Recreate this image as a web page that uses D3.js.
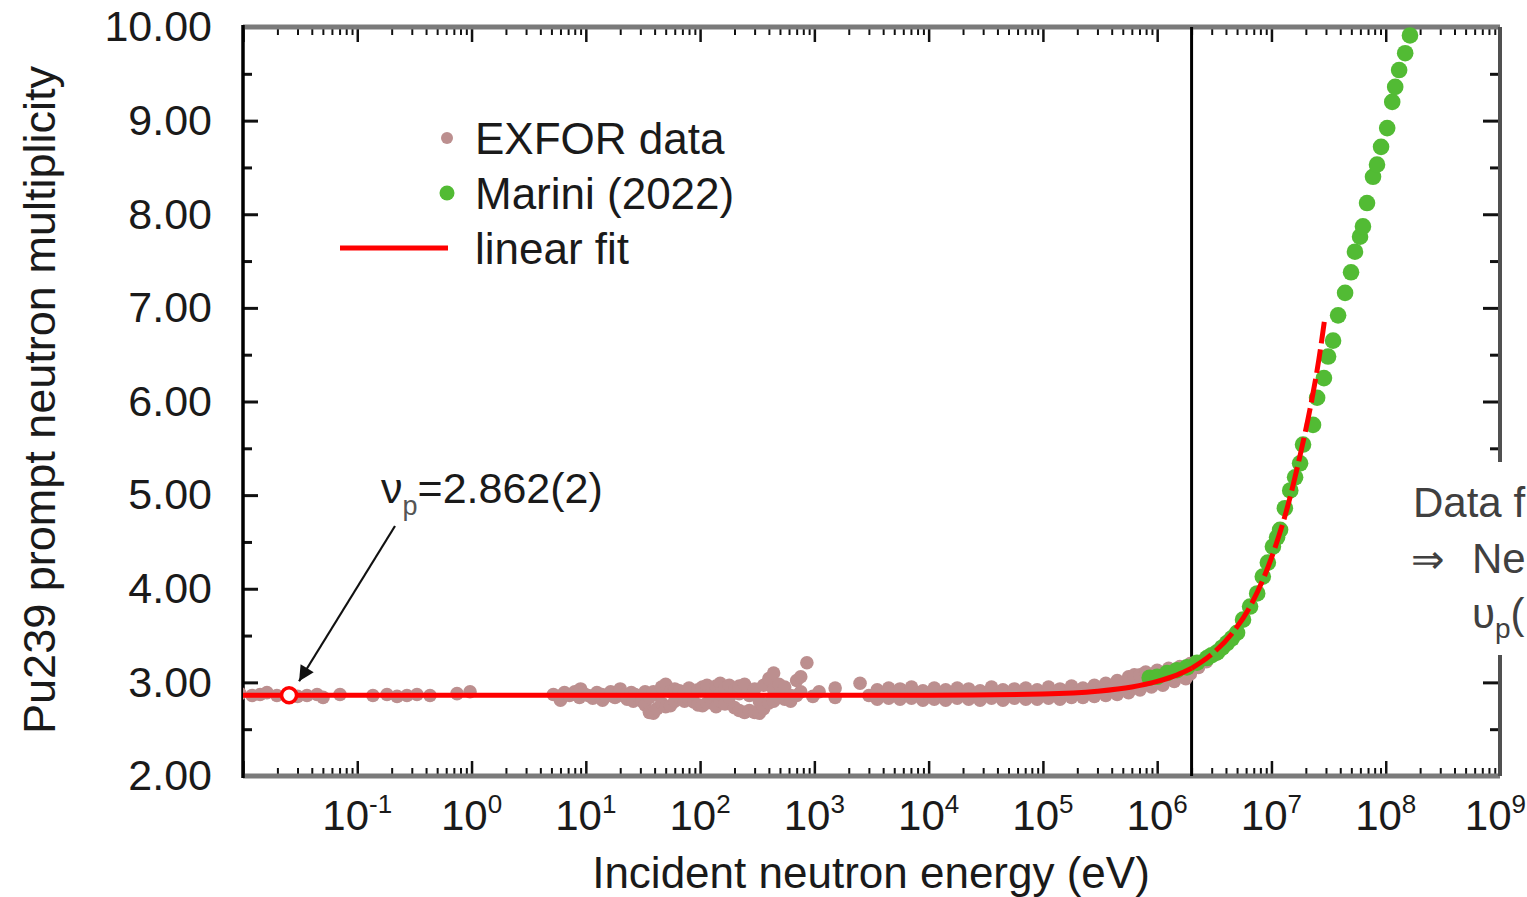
<!DOCTYPE html>
<html>
<head>
<meta charset="utf-8">
<script src="https://cdn.jsdelivr.net/npm/d3@7"></script>
<style>
  body { margin: 0; background: #fff; }
  svg { display: block; }
  text { font-family: "Liberation Sans", Arial, Helvetica, sans-serif; fill: #1a1a1a; }
</style>
</head>
<body>
<svg id="chart" width="1527" height="897"></svg>
<script>
// ---- values ----

// EXFOR measurements [energy (eV), prompt nu]
var exforPoints = [
  // thermal / low energy
  [0.0094,2.88],[0.012,2.86],[0.0141,2.87],[0.0162,2.89],[0.0198,2.86],[0.0253,2.87],[0.030,2.85],
  [0.0363,2.86],[0.0445,2.87],[0.0502,2.84],[0.0706,2.87],[0.137,2.86],[0.182,2.87],[0.223,2.85],
  [0.272,2.86],[0.333,2.87],[0.433,2.86],[0.746,2.88],[0.97,2.90],
  // resonance region
  [5.2,2.87],[5.8,2.85],[6.0,2.81],[6.5,2.89],[7.2,2.86],[8.0,2.90],[8.8,2.84],[9.0,2.93],[9.6,2.88],
  [10.5,2.86],[11.5,2.83],[12.5,2.89],[13.8,2.87],[14,2.81],[15,2.85],[16.5,2.90],[18,2.84],
  [19.5,2.88],[20,2.93],[21,2.86],[23,2.82],[25,2.89],[26,2.80],[27,2.87],[29,2.85],
  [31,2.86],[31,2.80],[33,2.90],[33,2.76],[36,2.68],[36,2.84],[39,2.67],[39,2.90],[42,2.72],[42,2.87],
  [46,2.95],[46,2.78],[50,2.98],[50,2.74],[55,2.75],[55,2.90],[60,2.80],[60,2.93],[66,2.84],[66,2.91],
  [73,2.80],[73,2.90],[80,2.82],[80,2.94],[88,2.79],[88,2.88],[96,2.76],[96,2.92],[105,2.75],[105,2.95],
  [115,2.78],[115,2.97],[126,2.80],[126,2.88],[138,2.74],[138,2.96],[150,2.80],[150,2.99],[150,2.88],
  [165,2.77],[165,2.94],[180,2.84],[180,2.97],[200,2.73],[200,2.92],[220,2.70],[220,2.88],[220,2.96],
  [245,2.68],[245,2.98],[270,2.70],[270,2.86],[300,2.68],[300,2.93],[330,2.67],[330,2.80],
  [360,2.72],[360,2.97],[400,2.78],[400,3.04],[440,2.80],[440,3.10],[440,2.92],[490,2.84],[490,2.98],
  [550,2.82],[550,2.95],[620,2.86],[620,2.80],[700,2.86],[700,3.02],[760,2.90],[760,3.06],
  [860,3.21],[970,2.85],[1100,2.90],[1520,2.94],[1520,2.84],[2510,2.99],[3000,2.86],
  // keV - MeV band
  [3550,2.92],[3550,2.82],[3980,2.87],[4470,2.94],[4470,2.83],[5010,2.88],[5620,2.82],[5620,2.93],
  [6310,2.87],[7080,2.95],[7080,2.83],[7940,2.86],[8910,2.91],[8910,2.81],[10000,2.87],
  [11200,2.94],[11200,2.82],[12600,2.86],[14100,2.92],[14100,2.81],[15800,2.88],[17800,2.83],[17800,2.94],
  [20000,2.87],[22400,2.93],[22400,2.82],[25100,2.86],[28200,2.91],[28200,2.81],[31600,2.88],
  [35500,2.95],[35500,2.83],[39800,2.86],[44700,2.92],[44700,2.81],[50100,2.87],[56200,2.83],[56200,2.93],
  [63100,2.88],[70800,2.94],[70800,2.82],[79400,2.86],[89100,2.92],[89100,2.82],[100000,2.88],
  [112000,2.95],[112000,2.83],[126000,2.87],[141000,2.93],[141000,2.82],[158000,2.89],
  [178000,2.96],[178000,2.84],[200000,2.88],[224000,2.94],[224000,2.84],[251000,2.90],
  [282000,2.97],[282000,2.85],[316000,2.91],[355000,2.99],[355000,2.86],[398000,2.93],
  [447000,3.02],[447000,2.87],[501000,2.95],[562000,3.06],[562000,2.89],[631000,2.98],[631000,3.08],
  [708000,3.08],[708000,2.92],[794000,3.01],[794000,3.11],[891000,2.95],[891000,3.06],
  [1.0e6,3.01],[1.0e6,3.13],[1.12e6,2.97],[1.12e6,3.08],[1.26e6,3.04],[1.26e6,3.15],
  [1.41e6,3.01],[1.41e6,3.11],[1.58e6,3.07],[1.58e6,3.17],[1.78e6,3.04],[1.78e6,3.14],
  [1.95e6,3.09],[1.95e6,3.20],
  [2.3e6,3.16],[2.7e6,3.22],[3.3e6,3.30]
];

// Marini (2022) [energy (eV), prompt nu]
var mariniPoints = [
  [8.6e5,3.05],[1.0e6,3.06],[1.22e6,3.10],[1.49e6,3.13],[1.82e6,3.16],[2.23e6,3.21],[2.73e6,3.26],
  [3.0e6,3.29],[3.34e6,3.32],[3.7e6,3.37],[4.08e6,3.42],[4.5e6,3.47],[5.0e6,3.53],[5.64e6,3.67],
  [6.5e6,3.81],[7.5e6,3.95],[8.4e6,4.13],[9.3e6,4.28],[1.03e7,4.45],[1.12e7,4.55],[1.19e7,4.63],
  [1.31e7,4.86],[1.46e7,5.05],[1.61e7,5.19],[1.78e7,5.34],
  [1.89e7,5.54],[2.31e7,5.75],[2.51e7,6.04],[2.88e7,6.25],[3.13e7,6.48],[3.46e7,6.65],[3.83e7,6.92],
  [4.41e7,7.16],[4.97e7,7.38],[5.38e7,7.60],[5.96e7,7.76],[6.32e7,7.87],[6.86e7,8.12],[7.74e7,8.40],
  [8.39e7,8.53],[9.10e7,8.72],[1.03e8,8.92],[1.14e8,9.20],[1.21e8,9.36],[1.31e8,9.54],[1.48e8,9.72],
  [1.63e8,9.91]
];

// linear fit curve [energy (eV), prompt nu]
var fitPoints = [
  [0.01,2.862],[1e4,2.863],[1e5,2.876],[3e5,2.905],[6e5,2.95],[1e6,3.01],[1.5e6,3.08],[2e6,3.15],
  [3e6,3.30],[4.5e6,3.52],[6.5e6,3.81],[1e7,4.33],[1.4e7,4.90],[1.8e7,5.45],[2.2e7,5.95],
  [2.6e7,6.45],[2.9e7,6.85]
];

var thermalPoint = [0.0253, 2.862];
var thresholdE = 2e6;          // vertical marker and where the fit turns dashed

var yTickValues = [2, 3, 4, 5, 6, 7, 8, 9, 10];
var xTickExponents = [-2, -1, 0, 1, 2, 3, 4, 5, 6, 7, 8, 9];
var xLabelExponents = [-1, 0, 1, 2, 3, 4, 5, 6, 7, 8, 9];

var legendItems = ["EXFOR data", "Marini (2022)", "linear fit"];

// ---- chart ----
var svg = d3.select("#chart");
var W = 1527;
var plot = {left: 243, right: 1500, top: 27, bottom: 776};

var x = d3.scaleLog().domain([1e-2, 1e9]).range([plot.left, plot.right]);
var y = d3.scaleLinear().domain([2, 10]).range([plot.bottom, plot.top]);

var xMajor = xTickExponents.map(function(e){ return Math.pow(10, e); });
var xMinor = [];
xTickExponents.slice(0, -1).forEach(function(e){
    for (var m = 2; m <= 9; m++) xMinor.push(m * Math.pow(10, e));
});
var yMinor = yTickValues.slice(0, -1).map(function(v){ return v + 0.5; });

svg.append("defs").append("clipPath").attr("id", "plotClip")
    .append("rect")
    .attr("x", plot.left).attr("y", plot.top)
    .attr("width", plot.right - plot.left).attr("height", plot.bottom - plot.top);

// ticks (all pointing inward)
function styleTicks(g, width){
    g.select(".domain").remove();
    g.selectAll(".tick line").attr("stroke", "#111").attr("stroke-width", width);
}
function drawTicks(axisFn, values, size, tr, width){
    svg.append("g").attr("transform", tr)
        .call(axisFn.tickValues(values).tickSize(-size).tickFormat(""))
        .call(styleTicks, width);
}
drawTicks(d3.axisBottom(x), xMajor, 15, "translate(0," + plot.bottom + ")", 2.5);
drawTicks(d3.axisBottom(x), xMinor, 8, "translate(0," + plot.bottom + ")", 2);
drawTicks(d3.axisTop(x), xMajor, 15, "translate(0," + plot.top + ")", 2.5);
drawTicks(d3.axisTop(x), xMinor, 8, "translate(0," + plot.top + ")", 2);
drawTicks(d3.axisRight(y), yTickValues, 17, "translate(" + plot.right + ",0)", 3);
drawTicks(d3.axisRight(y), yMinor, 10, "translate(" + plot.right + ",0)", 3);
drawTicks(d3.axisLeft(y), yMinor, 9, "translate(" + plot.left + ",0)", 3);

// left axis with labels
var yAxisG = svg.append("g").attr("transform", "translate(" + plot.left + ",0)")
    .call(d3.axisLeft(y).tickValues(yTickValues).tickSize(-15).tickPadding(31)
        .tickFormat(function(d){ return d.toFixed(2); }))
    .call(styleTicks, 3);
yAxisG.selectAll("text")
    .attr("font-size", 43)
    .attr("font-family", "'Liberation Sans', Arial, sans-serif")
    .attr("fill", "#1a1a1a");

// x tick labels 10^n
xLabelExponents.forEach(function(e){
    var t = svg.append("text")
        .attr("x", x(Math.pow(10, e)))
        .attr("y", 830)
        .attr("text-anchor", "middle")
        .attr("font-size", 42);
    t.append("tspan").text("10");
    t.append("tspan").attr("font-size", 26).attr("dy", -17).text(String(e));
    // keep the last label inside the page
    var w = t.node().getComputedTextLength();
    if (x(Math.pow(10, e)) + w / 2 > W - 1) t.attr("x", W - 1 - w / 2);
});

// frame
svg.append("line").attr("x1", plot.left).attr("x2", plot.right)
    .attr("y1", plot.bottom).attr("y2", plot.bottom)
    .attr("stroke", "#7a7a7a").attr("stroke-width", 5);
svg.append("line").attr("x1", plot.left).attr("x2", plot.right)
    .attr("y1", plot.top).attr("y2", plot.top)
    .attr("stroke", "#7a7a7a").attr("stroke-width", 5);
svg.append("line").attr("x1", plot.right).attr("x2", plot.right)
    .attr("y1", plot.top).attr("y2", plot.bottom)
    .attr("stroke", "#505050").attr("stroke-width", 4);
svg.append("line").attr("x1", plot.left).attr("x2", plot.left)
    .attr("y1", plot.top - 2).attr("y2", plot.bottom + 2)
    .attr("stroke", "#000").attr("stroke-width", 3.5);

// vertical marker at threshold energy
svg.append("line")
    .attr("x1", x(thresholdE)).attr("x2", x(thresholdE))
    .attr("y1", plot.top).attr("y2", plot.bottom)
    .attr("stroke", "#000").attr("stroke-width", 3);

// data
var dataLayer = svg.append("g").attr("clip-path", "url(#plotClip)");

dataLayer.selectAll(".exfor").data(exforPoints).enter()
    .append("circle").attr("class", "exfor")
    .attr("cx", function(d){ return x(d[0]); })
    .attr("cy", function(d){ return y(d[1]); })
    .attr("r", 6.8)
    .attr("fill", "#bc8f8f");

dataLayer.selectAll(".marini").data(mariniPoints).enter()
    .append("circle").attr("class", "marini")
    .attr("cx", function(d){ return x(d[0]); })
    .attr("cy", function(d){ return y(d[1]); })
    .attr("r", 8.3)
    .attr("fill", "#52bb34");

var fitLine = d3.line()
    .x(function(d){ return x(d[0]); })
    .y(function(d){ return y(d[1]); })
    .curve(d3.curveMonotoneX);

dataLayer.append("path")
    .datum(fitPoints.filter(function(d){ return d[0] <= thresholdE; }))
    .attr("d", fitLine)
    .attr("fill", "none").attr("stroke", "#ff0000").attr("stroke-width", 5);

dataLayer.append("path")
    .datum(fitPoints.filter(function(d){ return d[0] >= thresholdE; }))
    .attr("d", fitLine)
    .attr("fill", "none").attr("stroke", "#ff0000").attr("stroke-width", 5)
    .attr("stroke-dasharray", "24,6");

// thermal value annotation
var tx = x(thermalPoint[0]), ty = y(thermalPoint[1]);

svg.select("defs").append("marker")
    .attr("id", "arrowHead")
    .attr("viewBox", "0 0 10 10")
    .attr("refX", 10).attr("refY", 5)
    .attr("markerWidth", 9).attr("markerHeight", 7)
    .attr("markerUnits", "strokeWidth")
    .attr("orient", "auto")
    .append("path").attr("d", "M0,0L10,5L0,10z").attr("fill", "#111");

svg.append("line")
    .attr("x1", 395).attr("y1", 526)
    .attr("x2", tx + 10).attr("y2", ty - 14)
    .attr("stroke", "#111").attr("stroke-width", 2.2)
    .attr("marker-end", "url(#arrowHead)");

svg.append("circle")
    .attr("cx", tx).attr("cy", ty).attr("r", 7.5)
    .attr("fill", "#fff").attr("stroke", "#ff0000").attr("stroke-width", 3.5);

var nuLabel = svg.append("text").attr("x", 381).attr("y", 503).attr("font-size", 43);
nuLabel.append("tspan").text("\u03bd");
nuLabel.append("tspan").attr("font-size", 27).attr("dy", 12).attr("fill", "#555").text("p");
nuLabel.append("tspan").attr("dy", -12).text("=" + thermalPoint[1].toFixed(3) + "(2)");

// legend
var legend = svg.append("g");
var legendRows = [138, 193, 248];
legendItems.forEach(function(label, i){
    legend.append("text")
        .attr("x", 475).attr("y", legendRows[i] + 16)
        .attr("font-size", 44)
        .text(label);
});
legend.append("circle").attr("cx", 447).attr("cy", legendRows[0]).attr("r", 6).attr("fill", "#bc8f8f");
legend.append("circle").attr("cx", 447).attr("cy", legendRows[1]).attr("r", 7.5).attr("fill", "#52bb34");
legend.append("line").attr("x1", 340).attr("x2", 448)
    .attr("y1", legendRows[2]).attr("y2", legendRows[2])
    .attr("stroke", "#ff0000").attr("stroke-width", 5);

// axis titles
svg.append("text")
    .attr("x", 871).attr("y", 888)
    .attr("text-anchor", "middle")
    .attr("font-size", 44)
    .text("Incident neutron energy (eV)");

svg.append("text")
    .attr("transform", "translate(55,400) rotate(-90)")
    .attr("text-anchor", "middle")
    .attr("font-size", 45)
    .text("Pu239 prompt neutron multiplicity");

// slide text box overlapping the right edge
svg.append("rect").attr("x", 1396).attr("y", 462).attr("width", 131).attr("height", 193).attr("fill", "#fff");
var boxFont = "Lato, 'Open Sans', sans-serif";
svg.append("text").attr("x", 1413).attr("y", 517).attr("font-size", 42)
    .attr("font-family", boxFont).style("fill", "#404040").text("Data f");
svg.append("text").attr("x", 1411).attr("y", 573).attr("font-size", 40)
    .attr("font-family", "'DejaVu Sans', sans-serif").style("fill", "#404040").text("\u21d2");
svg.append("text").attr("x", 1472).attr("y", 573).attr("font-size", 42)
    .attr("font-family", boxFont).style("fill", "#404040").text("Ne");
var upsLabel = svg.append("text").attr("x", 1472).attr("y", 628).attr("font-size", 42)
    .attr("font-family", boxFont).style("fill", "#404040");
upsLabel.append("tspan").text("\u03c5");
upsLabel.append("tspan").attr("font-size", 28).attr("dy", 10).text("p");
upsLabel.append("tspan").attr("dy", -10).text("(");
</script>
</body>
</html>
